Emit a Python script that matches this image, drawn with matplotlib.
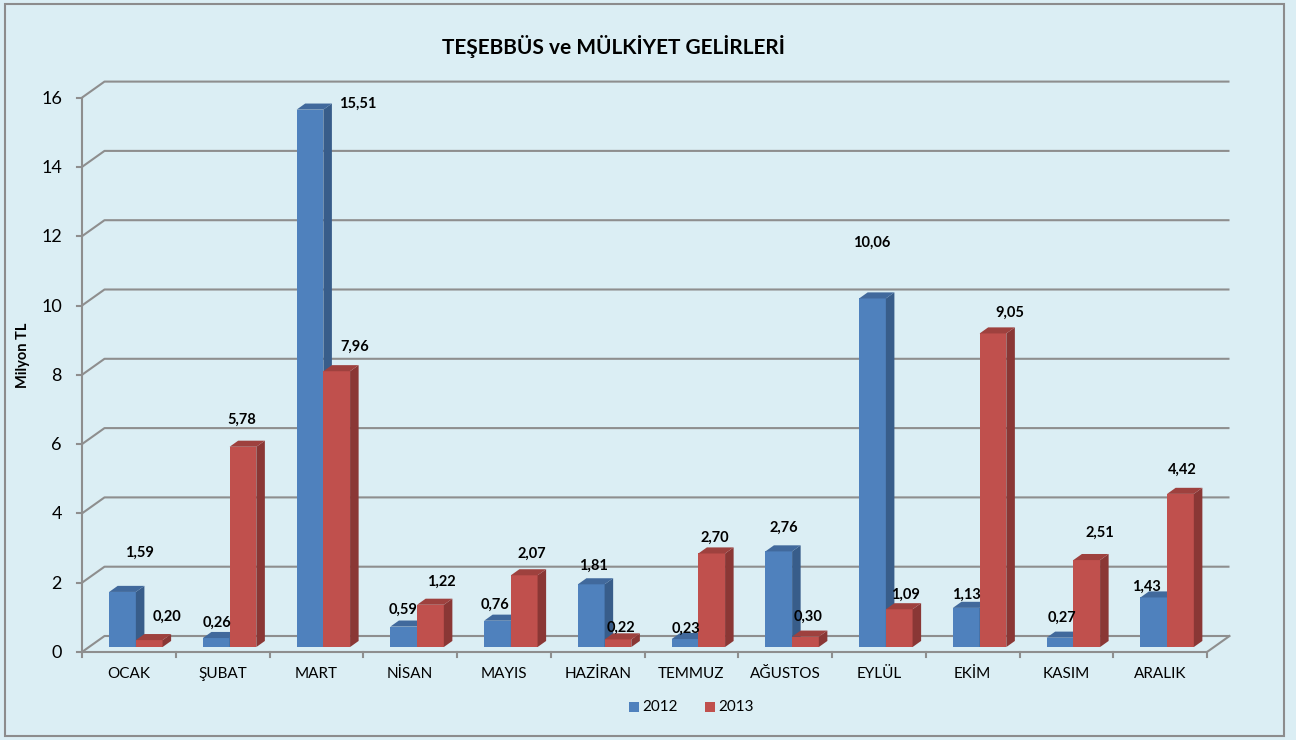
import matplotlib
matplotlib.use("Agg")
import matplotlib.pyplot as plt
from matplotlib.patches import Polygon, Rectangle

# ---------------- data ----------------
months = ["OCAK", "ŞUBAT", "MART", "NİSAN", "MAYIS", "HAZİRAN",
          "TEMMUZ", "AĞUSTOS", "EYLÜL", "EKİM", "KASIM", "ARALIK"]
values_2012 = [1.59, 0.26, 15.51, 0.59, 0.76, 1.81, 0.23, 2.76, 10.06, 1.13, 0.27, 1.43]
values_2013 = [0.20, 5.78, 7.96, 1.22, 2.07, 0.22, 2.70, 0.30, 1.09, 9.05, 2.51, 4.42]
series_names = ["2012", "2013"]
y_ticks = [0, 2, 4, 6, 8, 10, 12, 14, 16]
title = "TEŞEBBÜS ve MÜLKİYET GELİRLERİ"
y_label = "Milyon TL"

# label placement offsets (pixels, relative to bar top) - layout only
off_2012 = [(17, 39), (1, 15), (48, 6), (-1, 17), (-2, 16), (2, 19),
            (1, 10), (5, 24), (-1, 56), (0, 13), (2, 20), (-7, 11)]
off_2013 = [(18, 23), (-1, 27), (18, 24), (11, 23), (8, 22), (3, 12),
            (3, 16), (3, 20), (6, 14), (17, 21), (13, 27), (2, 24)]

# ---------------- layout ----------------
W, H = 1296, 740
X0_PX, CAT_PX = 82, 93.75          # x=0 pixel, pixels per category
Y0_PX, VAL_PX = 652, 34.65         # y=0 pixel (from top), pixels per unit
DX = 22.5 / CAT_PX                 # depth offset in data units
DY = 16.0 / VAL_PX
F0, F1 = 0.31, 0.69                # bar depth range (fraction of floor depth)
BW = 0.285                         # bar width (category units)

BG = "#DBEEF4"
GRID = "#8E8E8E"
colors = {
    "2012": ("#4F81BD", "#385D8A", "#41699C"),
    "2013": ("#C0504D", "#8A3735", "#9E413E"),
}

font = "Lato"
plt.rcParams["font.family"] = [font, "DejaVu Sans"]

fig = plt.figure(figsize=(W / 100, H / 100), dpi=100, facecolor=BG)
ax = fig.add_axes([0, 0, 1, 1])
ax.set_facecolor(BG)
ax.set_xlim(-X0_PX / CAT_PX, (W - X0_PX) / CAT_PX)
ax.set_ylim(-(H - Y0_PX) / VAL_PX, Y0_PX / VAL_PX)
ax.axis("off")

n = len(months)

# outer border
fig.patches.append(Rectangle((5 / W, 4 / H), 1279 / W, 732 / H, transform=fig.transFigure,
                             fill=False, edgecolor="#8C8C8C", lw=1.5))

# back-wall gridlines
for v in y_ticks:
    ax.plot([0, DX, n + DX], [v, v + DY, v + DY], color=GRID, lw=1.5, zorder=1,
            solid_capstyle="butt")
# floor front edge and right edge
ax.plot([0, n, n + DX], [0, 0, DY], color=GRID, lw=1.5, zorder=1)
# vertical axis
ax.plot([0, 0], [0, y_ticks[-1]], color=GRID, lw=1.5, zorder=1)
# y ticks
tick_len_x = 5 / CAT_PX
for v in y_ticks:
    ax.plot([-tick_len_x, 0], [v, v], color=GRID, lw=1.5, zorder=1)
    ax.text(-20 / CAT_PX, v - 1 / VAL_PX, str(v), ha="right", va="center", fontsize=13,
            color="black")
# x ticks
tick_len_y = 5 / VAL_PX
for i in range(n + 1):
    ax.plot([i, i], [0, -tick_len_y], color=GRID, lw=1.5, zorder=1)
for i, m in enumerate(months):
    ax.text(i + 0.5, -22 / VAL_PX, m, ha="center", va="center", fontsize=11, color="black")


def draw_bar(xl, v, cols, z):
    front, side, top = cols
    xr = xl + BW
    fx0, fy0 = F0 * DX, F0 * DY
    fx1, fy1 = F1 * DX, F1 * DY
    ax.add_patch(Polygon([(xl + fx0, fy0), (xr + fx0, fy0), (xr + fx0, v + fy0), (xl + fx0, v + fy0)],
                         closed=True, facecolor=front, edgecolor="none", zorder=z))
    ax.add_patch(Polygon([(xr + fx0, fy0), (xr + fx1, fy1), (xr + fx1, v + fy1), (xr + fx0, v + fy0)],
                         closed=True, facecolor=side, edgecolor="none", zorder=z))
    ax.add_patch(Polygon([(xl + fx0, v + fy0), (xr + fx0, v + fy0), (xr + fx1, v + fy1), (xl + fx1, v + fy1)],
                         closed=True, facecolor=top, edgecolor="none", zorder=z))
    return xl + fx0 + BW / 2, v + fy0


z = 2
for i in range(n):
    for k, (name, vals, offs) in enumerate([(series_names[0], values_2012, off_2012),
                                            (series_names[1], values_2013, off_2013)]):
        xl = i + 0.5 - BW + k * BW
        cx, cy = draw_bar(xl, vals[i], colors[name], z)
        z += 1
        ax.annotate(f"{vals[i]:.2f}".replace(".", ","), (cx, cy),
                    xytext=offs[i], textcoords="offset pixels",
                    ha="center", va="center", fontsize=10.5, fontweight="bold",
                    color="black", zorder=100)

# title
fig.text(613 / W, 1 - 47 / H, title, ha="center", va="center", fontsize=15,
         fontweight="bold", color="black")
# y label
fig.text(23 / W, 1 - 355 / H, y_label, ha="center", va="center", rotation=90,
         fontsize=10.5, fontweight="bold", color="black")

# legend
for k, name in enumerate(series_names):
    lx = 634 + k * 76
    fig.patches.append(Rectangle(((lx - 5) / W, 1 - 712 / H), 10 / W, 10 / H,
                                 transform=fig.transFigure, facecolor=colors[name][0],
                                 edgecolor="none"))
    fig.text((lx + 8) / W, 1 - 707 / H, name, ha="left", va="center", fontsize=11,
             color="black")

fig.savefig("out.png", dpi=100, facecolor=BG)
